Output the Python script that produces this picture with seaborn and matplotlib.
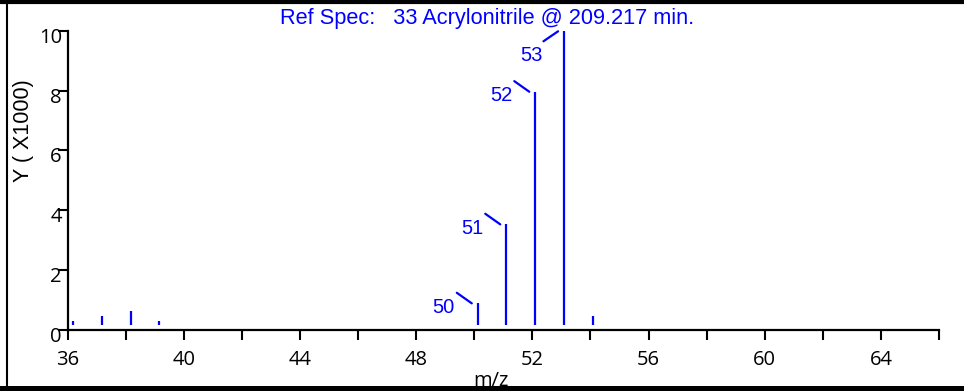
import numpy as np
import matplotlib
matplotlib.use('Agg')
import matplotlib.pyplot as plt
import matplotlib.transforms as mtransforms
from matplotlib.lines import Line2D
import seaborn as sns
import pandas as pd

# spectrum data (intensity in thousands)
mz = [36.17, 37.17, 38.17, 39.15, 50.12, 51.1, 52.1, 53.09, 54.09]
intensity = [0.31, 0.47, 0.63, 0.31, 0.89, 3.53, 7.96, 10.0, 0.48]
labeled_mz = [50, 51, 52, 53]
x_ticks = [36, 40, 44, 48, 52, 56, 60, 64]
y_ticks = [0, 2, 4, 6, 8, 10]
title_text = 'Ref Spec:   33 Acrylonitrile @ 209.217 min.'

BLUE = '#0000FF'
BASE_GAP = 0.17

sns.set_style('ticks')
plt.rcParams['font.family'] = ['Liberation Sans', 'DejaVu Sans']
plt.rcParams['text.color'] = 'black'
plt.rcParams['xtick.labelcolor'] = 'black'
plt.rcParams['ytick.labelcolor'] = 'black'

df = pd.DataFrame({'mz': mz, 'intensity': intensity})

fig = plt.figure(figsize=(9.64, 3.91), dpi=100)
ax = fig.add_axes([0.0702, 0.156, 0.9039, 0.7655])

ax.vlines(df['mz'], BASE_GAP, df['intensity'], color=BLUE, linewidth=1.6)

ax.set_xlim(36, 66)
ax.set_ylim(0, 10)
sns.despine(ax=ax)
for side in ['left', 'bottom']:
    ax.spines[side].set_linewidth(1.6)
    ax.spines[side].set_color('black')

ax.set_xticks(x_ticks)
ax.set_xticks(np.arange(38, 67, 4), minor=True)
ax.set_yticks(y_ticks)
ax.tick_params(axis='x', which='both', length=7.2, width=1.5, color='black', pad=7,
               labelsize=14.5, labelcolor='black', direction='out')
ax.tick_params(axis='y', length=7.2, width=1.5, color='black', pad=-3,
               labelsize=14.5, labelcolor='black', direction='out')
for lab in ax.get_xticklabels() + ax.get_yticklabels():
    lab.set_family(['Open Sans', 'DejaVu Sans'])
# y labels sit a little below their ticks
shift = mtransforms.ScaledTranslation(0, -0.045, fig.dpi_scale_trans)
for lab in ax.get_yticklabels():
    lab.set_transform(lab.get_transform() + shift)

# peak labels with small leader lines
top_val = max(intensity)
for x, h in zip(mz, intensity):
    m = int(round(x))
    if m not in labeled_mz:
        continue
    trans = fig.dpi_scale_trans + mtransforms.ScaledTranslation(x, h, ax.transData)
    if h >= top_val:
        ax.plot([-0.06, -0.206], [-0.006, -0.106], color=BLUE, lw=1.6,
                transform=trans, clip_on=False)
        ax.text(-0.33, -0.25, str(m), transform=trans, color=BLUE, fontsize=14.5,
                ha='center', va='center')
    else:
        ax.plot([-0.06, -0.21], [0.0, 0.106], color=BLUE, lw=1.6,
                transform=trans, clip_on=False)
        ax.text(-0.34, -0.04, str(m), transform=trans, color=BLUE, fontsize=14.5,
                ha='center', va='center')

fig.text(487 / 964, 1 - 18.5 / 391, title_text, color=BLUE, fontsize=15.7,
         ha='center', va='center')
fig.text(24 / 964, 1 - 131 / 391, 'Y ( X1000)', rotation=90, fontsize=15.5,
         ha='center', va='center')
fig.text(491 / 964, 1 - 381 / 391, 'm/z', fontsize=14.5, ha='center', va='center',
         family=['Open Sans', 'DejaVu Sans'])

# frame around the plot
fig.add_artist(Line2D([0, 1], [1 - 1.5 / 391] * 2, color='black', lw=3.0,
                      transform=fig.transFigure, zorder=10))
fig.add_artist(Line2D([6.5 / 964] * 2, [0, 1], color='black', lw=1.5,
                      transform=fig.transFigure, zorder=10))
# thick bottom edge, covering the lower part of the m/z label
fig.patches.append(plt.Rectangle((0, 0), 1, 5 / 391, transform=fig.transFigure,
                                 facecolor='black', edgecolor='none', zorder=11))

fig.savefig('out.png', dpi=100, facecolor='white')
